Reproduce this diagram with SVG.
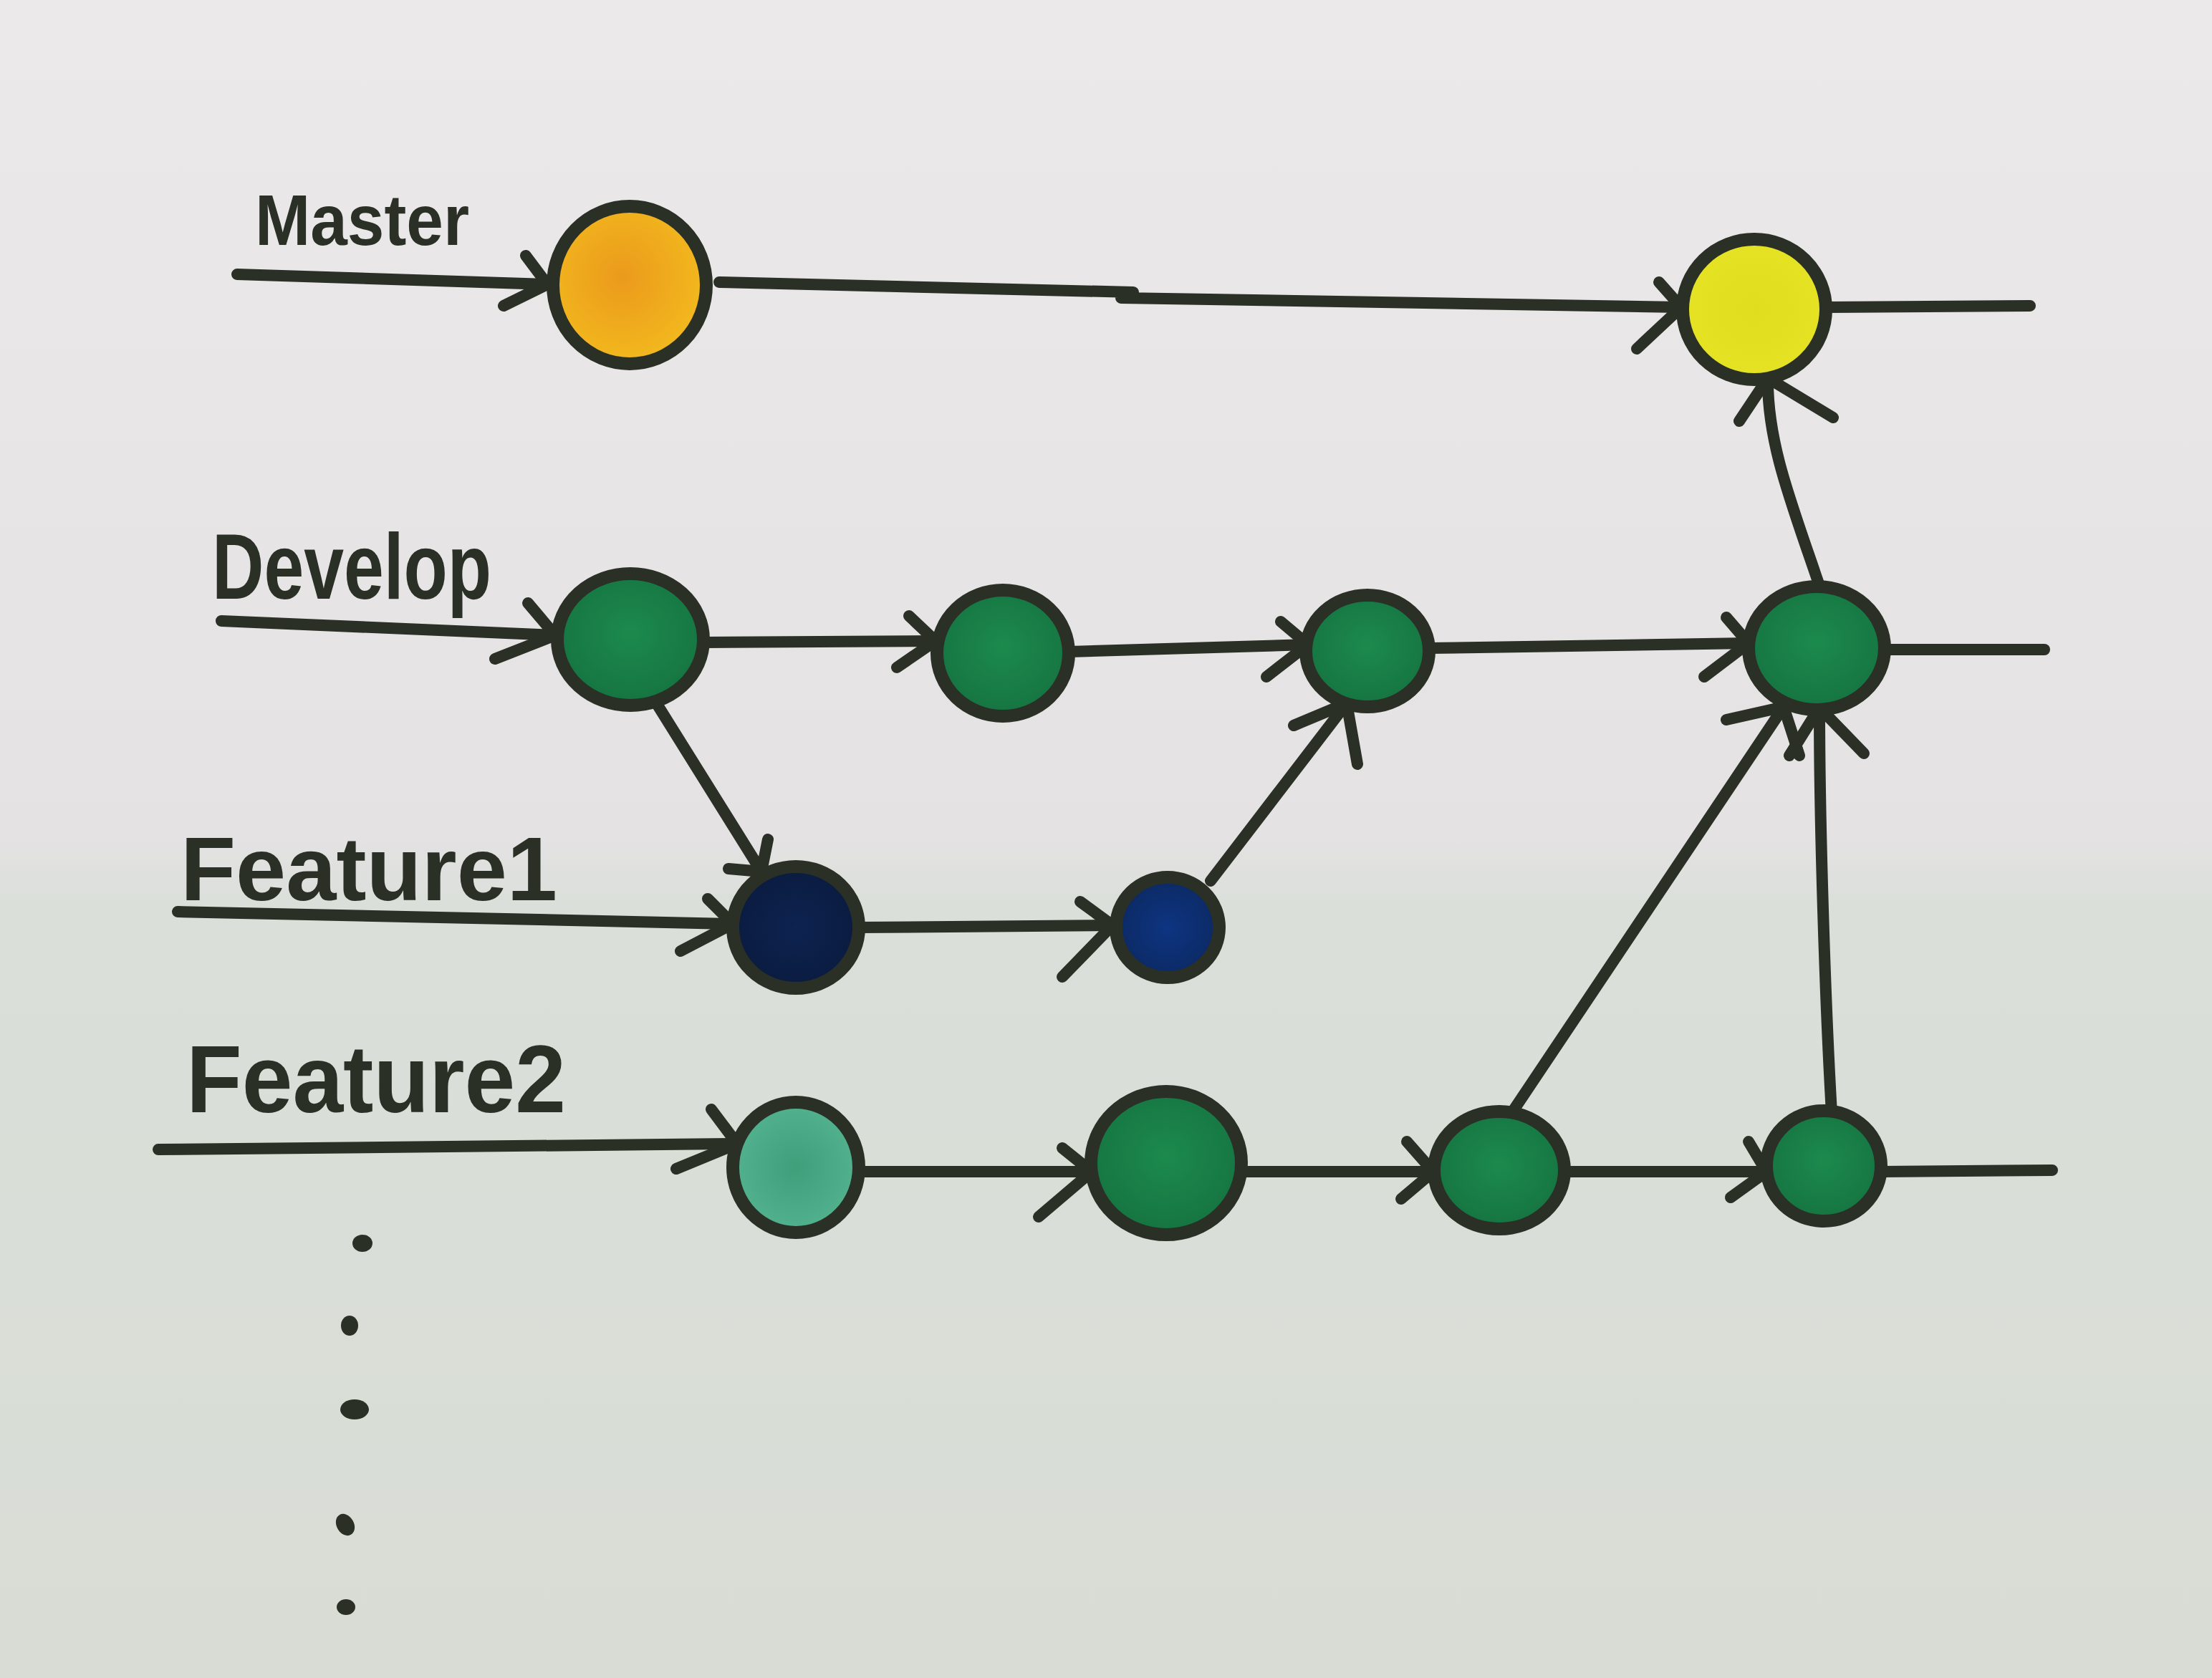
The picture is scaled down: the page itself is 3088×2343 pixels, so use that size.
<svg xmlns="http://www.w3.org/2000/svg" width="3088" height="2343" viewBox="0 0 3088 2343">
<defs>
<linearGradient id="paper" x1="0" y1="0" x2="0" y2="1">
<stop offset="0" stop-color="#ece9eb"/>
<stop offset="0.5" stop-color="#e4e2e3"/>
<stop offset="0.54" stop-color="#dadfd9"/>
<stop offset="1" stop-color="#d8dcd5"/>
</linearGradient>
<radialGradient id="gOrange" cx="0.45" cy="0.45" r="0.6">
<stop offset="0" stop-color="#eb9a1c"/>
<stop offset="1" stop-color="#f3bb1e"/>
</radialGradient>
<radialGradient id="gYellow" cx="0.5" cy="0.5" r="0.6">
<stop offset="0" stop-color="#e0dc1e"/>
<stop offset="1" stop-color="#e6e426"/>
</radialGradient>
<radialGradient id="gGreen" cx="0.5" cy="0.45" r="0.6">
<stop offset="0" stop-color="#1c8a4d"/>
<stop offset="1" stop-color="#157240"/>
</radialGradient>
<radialGradient id="gNavy" cx="0.5" cy="0.5" r="0.6">
<stop offset="0" stop-color="#0d2350"/>
<stop offset="1" stop-color="#0a1a3c"/>
</radialGradient>
<radialGradient id="gBlue" cx="0.5" cy="0.5" r="0.6">
<stop offset="0" stop-color="#0e3582"/>
<stop offset="1" stop-color="#0b275e"/>
</radialGradient>
<radialGradient id="gTeal" cx="0.5" cy="0.5" r="0.6">
<stop offset="0" stop-color="#3f9f7b"/>
<stop offset="1" stop-color="#56b592"/>
</radialGradient>
</defs>
<style>
.ink{fill:none;stroke:#2b3026;stroke-width:16;stroke-linecap:round;stroke-linejoin:round}
.node{stroke:#2b3026;stroke-width:18}
.lbl{font-family:"Liberation Sans","DejaVu Sans",sans-serif;font-weight:bold;fill:#2b3026}
.dot{fill:#2b3026}
</style>
<rect x="0" y="0" width="3088" height="2343" fill="url(#paper)"/>

<g id="labels">
<text class="lbl" x="356" y="342" font-size="100" textLength="299" lengthAdjust="spacingAndGlyphs">Master</text>
<text class="lbl" x="296" y="836" font-size="130" textLength="390" lengthAdjust="spacingAndGlyphs">Develop</text>
<text class="lbl" x="252" y="1257" font-size="126" textLength="526" lengthAdjust="spacingAndGlyphs">Feature1</text>
<text class="lbl" x="260" y="1553" font-size="134" textLength="530" lengthAdjust="spacingAndGlyphs">Feature2</text>
</g>

<g id="connectors">
<!-- Master -->
<path class="ink" d="M331,383 L764,397"/>
<polyline class="ink" points="734,357 764,397 703,427"/>
<path class="ink" d="M1004,394 L1582,408 M1565,416 L2347,429"/>
<polyline class="ink" points="2316,394 2347,429 2285,487"/>
<path class="ink" d="M2550,429 L2834,427"/>
<!-- Develop -->
<path class="ink" d="M309,867 L775,887"/>
<polyline class="ink" points="737,842 775,887 691,920"/>
<path class="ink" d="M983,897 L1306,895"/>
<polyline class="ink" points="1269,860 1306,895 1252,932"/>
<path class="ink" d="M1493,910 L1826,900"/>
<polyline class="ink" points="1788,868 1826,900 1768,945"/>
<path class="ink" d="M1995,905 L2441,898"/>
<polyline class="ink" points="2410,862 2441,898 2379,945"/>
<path class="ink" d="M2631,907 L2854,907"/>
<!-- Develop -> Feature1 -->
<path class="ink" d="M917,983 L1063,1217"/>
<polyline class="ink" points="1017,1213 1063,1217 1072,1172"/>
<!-- Feature1 -->
<path class="ink" d="M248,1273 L1023,1290"/>
<polyline class="ink" points="988,1255 1023,1290 950,1328"/>
<path class="ink" d="M1200,1295 L1553,1292"/>
<polyline class="ink" points="1508,1259 1553,1292 1483,1364"/>
<!-- Feature1 -> Develop -->
<path class="ink" d="M1690,1230 L1880,982"/>
<polyline class="ink" points="1806,1013 1880,982 1895,1067"/>
<!-- Feature2 -->
<path class="ink" d="M221,1605 L1029,1597"/>
<polyline class="ink" points="993,1549 1029,1597 944,1632"/>
<path class="ink" d="M1200,1636 L1524,1636"/>
<polyline class="ink" points="1483,1603 1524,1636 1450,1699"/>
<path class="ink" d="M1736,1636 L2001,1636"/>
<polyline class="ink" points="1964,1594 2001,1636 1956,1674"/>
<path class="ink" d="M2184,1636 L2466,1636"/>
<polyline class="ink" points="2441,1594 2466,1636 2416,1672"/>
<path class="ink" d="M2627,1636 L2865,1634"/>
<!-- Feature2 -> Develop -->
<path class="ink" d="M2109,1556 L2490,987"/>
<polyline class="ink" points="2410,1005 2490,987 2512,1055"/>
<path class="ink" d="M2557,1554 C2548,1400 2540,1150 2540,990"/>
<polyline class="ink" points="2498,1055 2540,988 2602,1052"/>
<!-- Develop -> Master -->
<path class="ink" d="M2539,815 C2500,700 2468,620 2468,532"/>
<polyline class="ink" points="2428,588 2468,528 2559,583"/>
</g>

<g id="node-master-1"><ellipse class="node" cx="879" cy="398" rx="107" ry="110" fill="url(#gOrange)"/></g>
<g id="node-master-2"><ellipse class="node" cx="2449" cy="432" rx="100" ry="98" fill="url(#gYellow)"/></g>
<g id="node-develop-1"><ellipse class="node" cx="880" cy="893" rx="102" ry="92" fill="url(#gGreen)"/></g>
<g id="node-develop-2"><ellipse class="node" cx="1400" cy="912" rx="92" ry="88" fill="url(#gGreen)"/></g>
<g id="node-develop-3"><ellipse class="node" cx="1909" cy="909" rx="86" ry="78" fill="url(#gGreen)"/></g>
<g id="node-develop-4"><ellipse class="node" cx="2536" cy="905" rx="95" ry="86" fill="url(#gGreen)"/></g>
<g id="node-feature1-1"><ellipse class="node" cx="1111" cy="1295" rx="88" ry="85" fill="url(#gNavy)"/></g>
<g id="node-feature1-2"><ellipse class="node" cx="1630" cy="1295" rx="72" ry="70" fill="url(#gBlue)"/></g>
<g id="node-feature2-1"><ellipse class="node" cx="1111" cy="1630" rx="88" ry="91" fill="url(#gTeal)"/></g>
<g id="node-feature2-2"><ellipse class="node" cx="1628" cy="1624" rx="105" ry="100" fill="url(#gGreen)"/></g>
<g id="node-feature2-3"><ellipse class="node" cx="2093" cy="1634" rx="91" ry="82" fill="url(#gGreen)"/></g>
<g id="node-feature2-4"><ellipse class="node" cx="2546" cy="1628" rx="80" ry="77" fill="url(#gGreen)"/></g>

<g id="ellipsis">
<ellipse class="dot" cx="506" cy="1736" rx="14" ry="12"/>
<ellipse class="dot" cx="488" cy="1851" rx="12" ry="14"/>
<ellipse class="dot" cx="495" cy="1968" rx="20" ry="14"/>
<ellipse class="dot" cx="482" cy="2129" rx="12" ry="16" transform="rotate(-30 482 2129)"/>
<ellipse class="dot" cx="483" cy="2244" rx="13" ry="11"/>
</g>
</svg>
